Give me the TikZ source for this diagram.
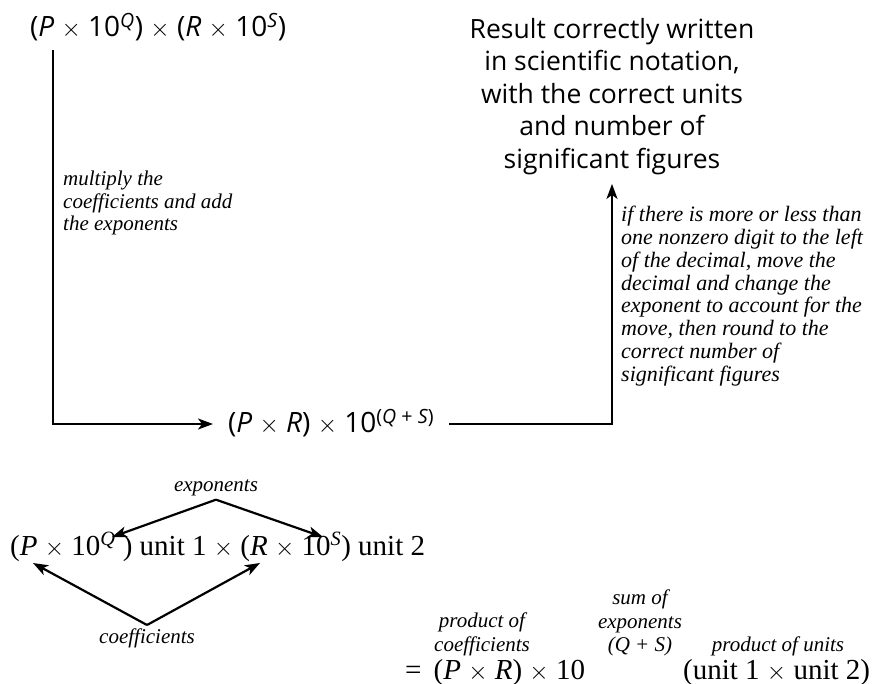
\documentclass[tikz,border=0pt]{standalone}
\usepackage{fontspec}
\setmainfont{Liberation Serif}
\setsansfont{Open Sans}
\usetikzlibrary{arrows.meta,positioning}

\begin{document}
\begin{tikzpicture}[x=1pt,y=-1pt,>={Stealth[length=15pt,width=11pt,inset=4pt]},
  formula/.style={font=\sffamily\fontsize{28}{32}\selectfont,inner ysep=0pt,inner xsep=15pt},
  result/.style={font=\sffamily\fontsize{26.5}{32.5}\selectfont,align=center,inner sep=0pt,anchor=north},
  note/.style={font=\itshape\fontsize{21}{22.5}\selectfont,align=left,inner sep=0pt,anchor=north west},
  eqn/.style={font=\fontsize{29}{32}\selectfont,inner sep=0pt,anchor=base west},
  tag/.style={font=\itshape\fontsize{21}{24}\selectfont,inner sep=3pt,anchor=base},
  tagbox/.style={font=\itshape\fontsize{21}{23.5}\selectfont,align=center,inner sep=0pt,anchor=north},
  flow/.style={->,line width=2.2pt}]
\useasboundingbox (0,0) rectangle (876,684);

% upper part: the product and how it is rewritten
\node[formula,anchor=base west] (start) at (15,37) {(\textit{P} $\times$ 10\textsuperscript{\textit{Q}}) $\times$ (\textit{R} $\times$ 10\textsuperscript{\textit{S}})};
\node[formula,anchor=base west] (mid) at (213,433) {(\textit{P} $\times$ \textit{R}) $\times$ 10\textsuperscript{(\textit{Q} + \textit{S})}};
\node[result] (res) at (612,18) {Result correctly written\\in scientific notation,\\with the correct units\\and number of\\significant figures};
\coordinate (top) at (53,50);
\coordinate (c1) at (53,424);
\coordinate (c2) at (612,424);
\draw[flow] (top) -- (c1) -- (c1 -| mid.west);
\draw[flow,shorten >=9pt] (c1 -| mid.east) -- (c2) -- (res.south);
\node[note] (mul) at (63,171) {multiply the\\coefficients and add\\the exponents};
\node[note,font=\itshape\fontsize{22}{22.8}\selectfont] (mov) at (621,206) {if there is more or less than\\one nonzero digit to the left\\of the decimal, move the\\decimal and change the\\exponent to account for the\\move, then round to the\\correct number of\\significant figures};

% lower part: the parts of each factor
\node[tag] (expo) at (216,492) {exponents};
\node[eqn] (fac) at (10,555) {(\textit{P} $\times$ 10\textsuperscript{\textit{Q}} ) unit 1 $\times$ (\textit{R} $\times$ 10\textsuperscript{\textit{S}}) unit 2};
\node[tag] (coef) at (147,643) {coefficients};
\coordinate (eq1) at (112,537);
\coordinate (eq2) at (323,537);
\coordinate (cq1) at (33,563);
\coordinate (cq2) at (260,563);
\draw[flow] (expo.south) -- (eq1);
\draw[flow] (expo.south) -- (eq2);
\draw[flow] (coef.north) -- (cq1);
\draw[flow] (coef.north) -- (cq2);

% the product, term by term
\node[eqn] (prod) at (405,679) {= \,(\textit{P} $\times$ \textit{R}) $\times$ 10};
\node[eqn] (units) at (683,679) {(unit 1 $\times$ unit 2)};
\node[tagbox] (pc) at (482,613) {product of\\coefficients};
\node[tagbox] (se) at (640,590) {sum of\\exponents\\(\textit{Q} + \textit{S})};
\node[tag] (pu) at (778,651) {product of units};
\end{tikzpicture}
\end{document}
